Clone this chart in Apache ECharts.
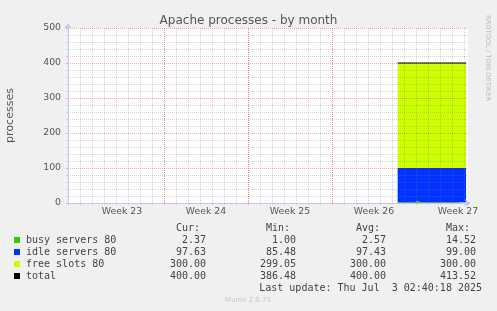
<!DOCTYPE html>
<html>
<head>
<meta charset="utf-8">
<script src="https://cdn.jsdelivr.net/npm/echarts@6/dist/echarts.min.js"></script>
<style>
html, body { margin: 0; padding: 0; background: #f0f0f0; }
#chart { width: 497px; height: 311px; }
</style>
</head>
<body>
<div id="chart"></div>
<script>
// x = days from the left edge of the graph (1 px = 2 h)
var days  = [27.47, 28.9, 29.1, 29.3, 29.5, 30.15, 30.25, 30.35, 31.2, 31.35, 31.5, 32.4, 33.17];
var busy  = [2.4, 2.3, 6.0, 3.5, 2.3, 2.4, 5.5, 2.4, 2.3, 6.5, 2.4, 2.3, 2.37];
var idle  = [97.6, 97.7, 94.0, 96.5, 97.7, 97.6, 94.5, 97.6, 97.7, 93.5, 97.6, 97.7, 97.63];
var free  = [300, 300, 300, 300, 300, 300, 300, 300, 300, 300, 300, 300, 300];
var total = [400, 400, 400, 400, 400, 400, 400, 400, 400, 400, 400, 400, 400];

var weekStarts  = [1, 8, 15, 22, 29];
var weekLabelAt = [4.5, 11.5, 18.5, 25.5, 32.5];
var weekNames   = ['Week 23', 'Week 24', 'Week 25', 'Week 26', 'Week 27'];

var legendNames  = ['busy servers 80', 'idle servers 80', 'free slots 80', 'total'];
var legendColors = ['#33cc00', '#0033ff', '#ccff00', '#000000'];
var colHeaders = ['Cur:', 'Min:', 'Avg:', 'Max:'];
var curVals = [2.37, 97.63, 300.00, 400.00];
var minVals = [1.00, 85.48, 299.05, 386.48];
var avgVals = [2.57, 97.43, 300.00, 400.00];
var maxVals = [14.52, 99.00, 300.00, 413.52];
var lastUpdate = 'Last update: Thu Jul  3 02:40:18 2025';

// value first, day second: so the stack goes on the value dimension
function pairs(ys) {
	return days.map(function (d, i) { return [ys[i], d]; });
}

var sans = '"DejaVu Sans", sans-serif';
var mono = '"DejaVu Sans Mono", monospace';
// grid is drawn over the areas, half see-through like rrdtool does
var minorLine = { color: 'rgba(128,128,128,0.32)', type: [1, 1], width: 1 };
var majorLine = { color: 'rgba(255,0,0,0.35)', type: [1, 1], width: 1 };
var axisCol = '#c4c4f4';

// legend block below the graph
var graphics = [];
var rowY = [240, 252, 264, 276];
var colRight = [206, 296, 386, 476];
var cols = [curVals, minVals, avgVals, maxVals];
colHeaders.forEach(function (h, c) {
	graphics.push({ type: 'text', x: colRight[c] - 6, y: 228,
		style: { text: h, font: '10px ' + mono, fill: '#444', align: 'right', verticalAlign: 'middle' } });
});
legendNames.forEach(function (name, r) {
	graphics.push({ type: 'rect', shape: { x: 14, y: rowY[r] - 3, width: 6, height: 6 },
		style: { fill: legendColors[r] } });
	graphics.push({ type: 'text', x: 26, y: rowY[r],
		style: { text: name, font: '10px ' + mono, fill: '#444', verticalAlign: 'middle' } });
	cols.forEach(function (vals, c) {
		graphics.push({ type: 'text', x: colRight[c], y: rowY[r],
			style: { text: vals[r].toFixed(2), font: '10px ' + mono, fill: '#444', align: 'right', verticalAlign: 'middle' } });
	});
});
graphics.push({ type: 'text', x: 482, y: 288,
	style: { text: lastUpdate, font: '10px ' + mono, fill: '#444', align: 'right', verticalAlign: 'middle' } });
graphics.push({ type: 'text', x: 248, y: 300,
	style: { text: 'Munin 2.0.75', font: '7px ' + sans, fill: '#c8c8c8', align: 'center', verticalAlign: 'middle' } });
graphics.push({ type: 'text', x: 488, y: 15, rotation: -Math.PI / 2,
	style: { text: 'RRDTOOL / TOBI OETIKER', font: '6.7px ' + sans, fill: '#b8b8b8', align: 'left', verticalAlign: 'middle' } });

function areaSeries(name, ys, color) {
	return {
		name: name, type: 'line', stack: 'p', data: pairs(ys),
		encode: { x: 1, y: 0 }, z: 1,
		showSymbol: false, lineStyle: { width: 0 }, areaStyle: { color: color, opacity: 1 }
	};
}

var myChart = echarts.init(document.getElementById('chart'));
var option = {
	backgroundColor: '#f0f0f0',
	animation: false,
	title: {
		text: 'Apache processes - by month',
		left: 'center',
		top: 10,
		textStyle: { fontFamily: sans, fontSize: 12, fontWeight: 'normal', color: '#555' }
	},
	grid: {
		left: 68, right: 29, top: 28, bottom: 108,
		show: true, backgroundColor: '#ffffff', borderWidth: 0,
		outerBoundsMode: 'none'
	},
	xAxis: [{
		type: 'value', min: 0, max: 400 / 12, interval: 1, z: 3,
		axisLine: { show: true, lineStyle: { color: axisCol }, symbol: ['none', 'arrow'], symbolSize: [6, 6], symbolOffset: [0, 3] },
		axisTick: { show: true, length: 2, lineStyle: { color: '#d0d0d0' } },
		axisLabel: { show: false },
		splitLine: { show: true, showMinLine: false, showMaxLine: false, lineStyle: minorLine }
	}, {
		type: 'value', min: 0, max: 400 / 12, position: 'bottom', z: 3,
		axisLine: { show: false },
		axisTick: { show: true, length: 2, customValues: weekStarts, lineStyle: { color: '#f0a8a8' } },
		axisLabel: {
			show: true, customValues: weekLabelAt, margin: 4,
			fontFamily: sans, fontSize: 9.33, color: '#555',
			formatter: function (v) { return weekNames[weekLabelAt.indexOf(v)] || ''; }
		},
		splitLine: { show: true, showMinLine: false, showMaxLine: false, lineStyle: majorLine }
	}],
	yAxis: {
		type: 'value', min: 0, max: 500, interval: 100, z: 3,
		name: 'processes', nameLocation: 'middle', nameGap: 52,
		nameTextStyle: { fontFamily: sans, fontSize: 11, color: '#555' },
		axisLine: { show: true, lineStyle: { color: axisCol }, symbol: ['none', 'arrow'], symbolSize: [6, 6], symbolOffset: [0, 5] },
		axisTick: { show: true, length: 2, lineStyle: { color: '#f0a8a8' } },
		minorTick: { show: true, splitNumber: 5, length: 2, lineStyle: { color: '#d0d0d0' } },
		axisLabel: { fontFamily: sans, fontSize: 9.33, color: '#555', margin: 7 },
		splitLine: { show: true, showMinLine: false, lineStyle: majorLine },
		minorSplitLine: { show: true, lineStyle: minorLine }
	},
	series: [
		areaSeries('busy servers 80', busy, legendColors[0]),
		areaSeries('idle servers 80', idle, legendColors[1]),
		areaSeries('free slots 80', free, legendColors[2]),
		{
			name: 'total', type: 'line', data: pairs(total),
			encode: { x: 1, y: 0 }, z: 4,
			showSymbol: false, lineStyle: { width: 1, color: legendColors[3] }
		}
	],
	graphic: graphics
};
myChart.setOption(option);
</script>
</body>
</html>
